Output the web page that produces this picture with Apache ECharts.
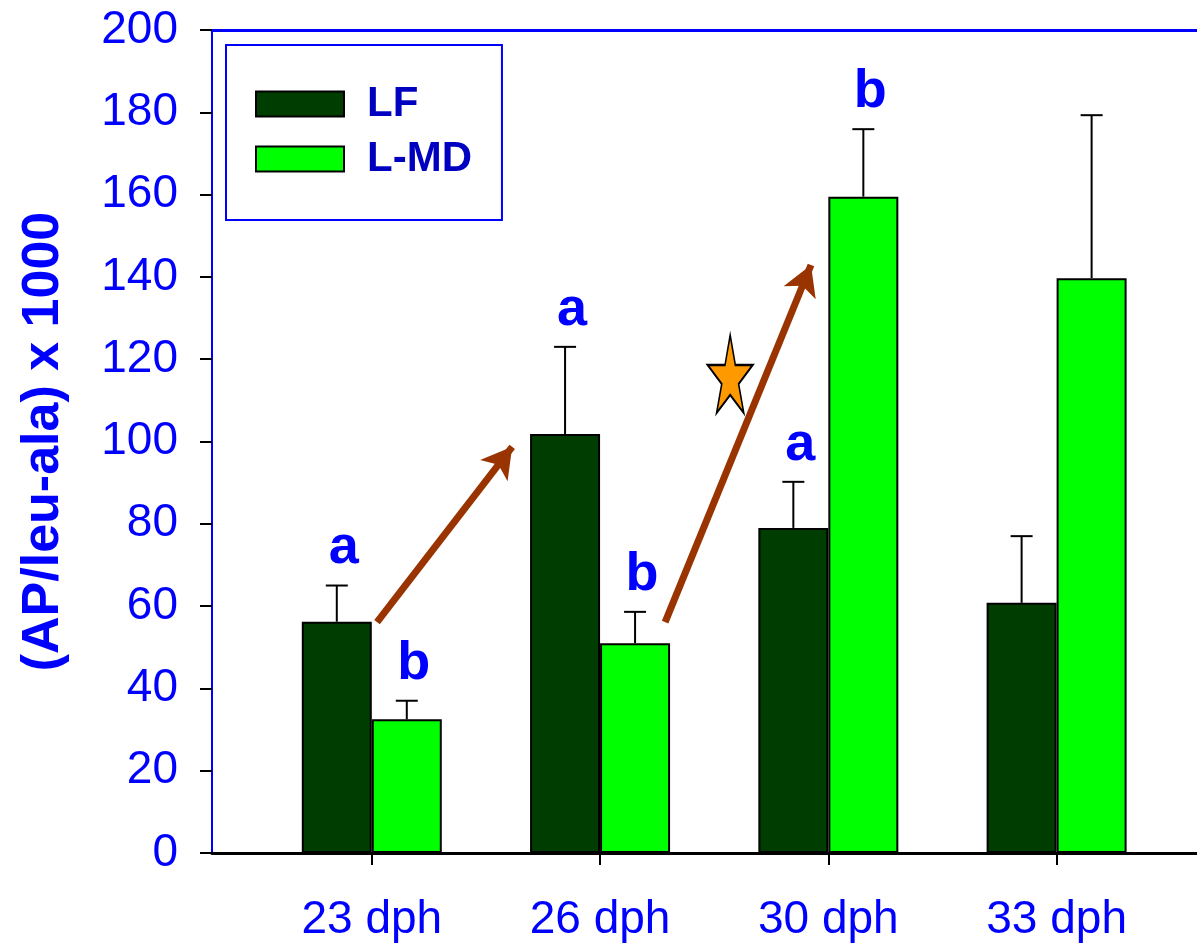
<!DOCTYPE html>
<html>
<head>
<meta charset="utf-8">
<script src="https://cdn.jsdelivr.net/npm/echarts@6/dist/echarts.min.js"></script>
<style>
  html, body { margin: 0; padding: 0; background: #ffffff; }
  #chart { width: 1197px; height: 951px; }
</style>
</head>
<body>
<div id="chart"></div>
<script>
// Age groups (days post hatch)
const days = ['23 dph', '26 dph', '30 dph', '33 dph'];
const seriesNames = ['LF', 'L-MD'];

// Mean activity (AP/leu-ala x 1000) and upper error (SD)
const lfMean = [56.2, 101.8, 79.0, 60.8];
const lfSd   = [8.8, 21.2, 11.2, 16.2];
const mdMean = [32.5, 51.0, 159.5, 139.7];
const mdSd   = [4.5, 7.6, 16.4, 39.6];

// Significance letters above each bar
const lfLetters = ['a', 'a', 'a', ''];
const mdLetters = ['b', 'b', 'b', ''];

// Trend arrows: [startIndex, startValue] -> [endIndex, endValue]
const arrowFrom = [[0.023, 56.1], [1.285, 56.1]];
const arrowTo   = [[0.615, 98.7], [1.924, 142.9]];

// Star marker location
const starPoint = [[1.570, 116.4]];

const yTicks = [0, 20, 40, 60, 80, 100, 120, 140, 160, 180, 200];

const FONT = 'Liberation Sans, Arial, sans-serif';
const BLUE = '#0000FF';
const BAR_W = 70;

const chart = echarts.init(document.getElementById('chart'), null, { renderer: 'canvas' });

function errorBarSeries(means, sds, side) {
  return {
    type: 'custom',
    z: 5,
    silent: true,
    data: means.map((m, i) => [i, m, m + sds[i]]),
    renderItem: function (params, api) {
      const base = api.coord([api.value(0), api.value(1)]);
      const top = api.coord([api.value(0), api.value(2)]);
      const x = base[0] + side * BAR_W / 2;
      return {
        type: 'group',
        children: [
          { type: 'line', shape: { x1: x, y1: base[1], x2: x, y2: top[1] },
            style: { stroke: '#000', lineWidth: 2 } },
          { type: 'line', shape: { x1: x - 11, y1: top[1], x2: x + 11, y2: top[1] },
            style: { stroke: '#000', lineWidth: 2 } }
        ]
      };
    }
  };
}

function letterSeries(means, sds, letters, side) {
  return {
    type: 'custom',
    z: 6,
    silent: true,
    data: means.map((m, i) => [i, m + sds[i]]),
    renderItem: function (params, api) {
      const i = params.dataIndex;
      const p = api.coord([api.value(0), api.value(1)]);
      return {
        type: 'text',
        x: p[0] + side * BAR_W / 2 + 7,
        y: p[1] - 10,
        style: {
          text: letters[i],
          fill: BLUE,
          fontSize: 54,
          fontWeight: 'bold',
          fontFamily: FONT,
          align: 'center',
          verticalAlign: 'bottom'
        }
      };
    }
  };
}

const xRange = { min: -0.7, max: 3.615 };

const option = {
  animation: false,
  backgroundColor: '#ffffff',
  grid: { left: 212, right: 0, top: 30, bottom: 98, containLabel: false },
  legend: {
    data: seriesNames,
    orient: 'vertical',
    left: 226,
    top: 45,
    padding: [38, 30, 40, 29],
    itemWidth: 88,
    itemHeight: 25,
    itemGap: 13,
    icon: 'rect',
    borderColor: BLUE,
    borderWidth: 2,
    textStyle: {
      fontSize: 42,
      fontWeight: 'bold',
      fontFamily: FONT,
      color: '#0000C0',
      padding: [0, 0, 0, 18]
    }
  },
  xAxis: [
    {
      type: 'value',
      position: 'bottom',
      min: xRange.min,
      max: xRange.max,
      axisLine: { show: true, onZero: false, lineStyle: { color: '#000', width: 3 } },
      axisTick: { show: true, customValues: [0, 1, 2, 3], length: 12, lineStyle: { color: '#000', width: 2 } },
      axisLabel: {
        customValues: [0, 1, 2, 3],
        formatter: v => days[Math.round(v)],
        color: BLUE,
        fontSize: 46,
        fontFamily: FONT,
        margin: 44
      },
      splitLine: { show: false }
    },
    {
      type: 'value',
      position: 'top',
      min: xRange.min,
      max: xRange.max,
      axisLine: { show: true, onZero: false, lineStyle: { color: BLUE, width: 3 } },
      axisTick: { show: false },
      axisLabel: { show: false },
      splitLine: { show: false }
    }
  ],
  yAxis: {
    type: 'value',
    position: 'left',
    min: 0,
    max: 200,
    interval: 20,
    name: '(AP/leu-ala) x 1000',
    nameLocation: 'middle',
    nameGap: 142,
    nameTextStyle: { color: BLUE, fontSize: 52, fontWeight: 'bold', fontFamily: FONT },
    axisLine: { show: true, onZero: false, lineStyle: { color: BLUE, width: 2 } },
    axisTick: { show: true, inside: false, length: 12, lineStyle: { color: '#000', width: 2 } },
    axisLabel: {
      color: BLUE,
      fontSize: 46,
      fontFamily: FONT,
      margin: 34,
      formatter: v => (yTicks.indexOf(v) >= 0 ? String(v) : '')
    },
    splitLine: { show: false }
  },
  series: [
    {
      name: 'LF',
      type: 'bar',
      barWidth: BAR_W,
      barGap: '0%',
      data: lfMean.map((v, i) => [i, v]),
      itemStyle: { color: '#003D00', borderColor: '#000', borderWidth: 2 },
      z: 2
    },
    {
      name: 'L-MD',
      type: 'bar',
      barWidth: BAR_W,
      barGap: '0%',
      data: mdMean.map((v, i) => [i, v]),
      itemStyle: { color: '#00FF00', borderColor: '#000', borderWidth: 2 },
      z: 2
    },
    errorBarSeries(lfMean, lfSd, -1),
    errorBarSeries(mdMean, mdSd, 1),
    letterSeries(lfMean, lfSd, lfLetters, -1),
    letterSeries(mdMean, mdSd, mdLetters, 1),
    {
      type: 'scatter',
      z: 7,
      silent: true,
      data: starPoint,
      symbol: 'path://M50,0 L61,35 L98,35 L68,57 L79,91 L50,70 L21,91 L32,57 L2,35 L39,35 Z',
      symbolSize: [45, 78],
      symbolKeepAspect: false,
      itemStyle: { color: '#FF9900', borderColor: '#000', borderWidth: 2, opacity: 1 },
      markLine: {
        silent: true,
        symbol: ['none', 'arrow'],
        symbolSize: [26, 30],
        label: { show: false },
        lineStyle: { color: '#993300', width: 7, type: 'solid', opacity: 1 },
        data: arrowFrom.map((s, k) => [{ coord: s }, { coord: arrowTo[k] }])
      }
    }
  ]
};

chart.setOption(option);
</script>
</body>
</html>
